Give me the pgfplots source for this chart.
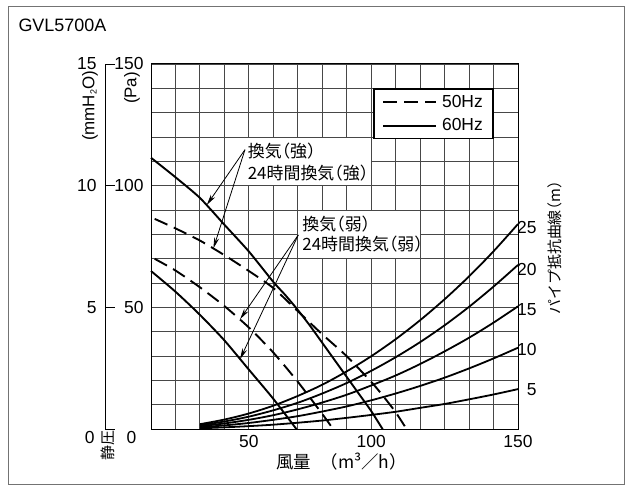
\documentclass[border=0pt]{standalone}
\usepackage{fontspec}
\setmainfont{Liberation Sans}
\newfontfamily\jp{Noto Sans CJK JP}
\newfontfamily\jph[RawFeature=+halt]{Noto Sans CJK JP}
\usepackage{pgfplots}
\pgfplotsset{compat=1.18}
\usetikzlibrary{arrows.meta}
\newcommand{\fs}{\fontsize{17.5}{20}\selectfont}
\begin{document}
\begin{tikzpicture}[x=1bp,y=1bp]
\path (0,0) rectangle (632,492);
\draw[black!55,line width=1bp] (8,7) rectangle (624,485);
\node[anchor=west,font=\fontsize{18}{20}\selectfont] at (15,466.5) {GVL5700A};
% secondary left scale
\draw[black,line width=0.9bp] (115,427.95) -- (105,427.95) -- (105,62.7) -- (115,62.7);
\draw[black,line width=0.9bp] (105,306.2) -- (115,306.2);
\draw[black,line width=0.9bp] (105,184.45) -- (115,184.45);
\node[anchor=east,font=\fs] at (100,428) {15};
\node[anchor=east,font=\fs] at (100,306.2) {10};
\node[anchor=east,font=\fs] at (100,184.45) {5};
\node[anchor=east,font=\fs] at (98,54) {0};
\node[anchor=east,font=\fs] at (147,428) {150};
\node[anchor=east,font=\fs] at (147,306.2) {100};
\node[anchor=east,font=\fs] at (147,184.45) {50};
\node[font=\fs] at (131.5,54) {0};
\node[rotate=90,font=\fontsize{17}{20}\selectfont] at (90,386) {(mmH\raisebox{-0.25ex}{\fontsize{9}{9}\selectfont 2}O)};
\node[rotate=90,font=\fontsize{17}{20}\selectfont] at (132,404) {(Pa)};
\node[rotate=90,font=\jp\fontsize{15}{18}\selectfont] at (108,46) {静圧};
% right labels
\node[anchor=east,font=\fs] at (540,264) {25};
\node[anchor=east,font=\fs] at (540,222) {20};
\node[anchor=east,font=\fs] at (540,182) {15};
\node[anchor=east,font=\fs] at (540,142) {10};
\node[anchor=east,font=\fs] at (540,102) {5};
\node[rotate=90,font=\jph\fontsize{15}{18}\selectfont] at (555,244) {パイプ抵抗曲線（m）};
% x label
\node[anchor=west,font=\jp\fontsize{17.5}{20}\selectfont] at (273,30) {風量};
\node[anchor=west,font=\jph\fontsize{17.5}{20}\selectfont] at (326,30) {（m³／h）};
\begin{axis}[
  at={(151bp,62.7bp)}, anchor=south west,
  width=367bp, height=365.3bp, scale only axis,
  xmin=10, xmax=160, ymin=0, ymax=150,
  xtick={50,100,160}, xticklabels={50,100,150},
  minor xtick={10,20,...,160},
  ytick={0,10,...,150}, yticklabels={},
  grid=both,
  major grid style={black!72, line width=0.9bp},
  minor grid style={black!72, line width=0.9bp},
  axis line style={black, line width=1bp},
  tick style={draw=none},
  xticklabel style={font=\fs, yshift=-3bp},
  /pgf/number format/assume math mode=true,
  legend style={at={(axis cs:150,140)}, anchor=north east, draw=black, line width=1.5bp, fill=white,
    font=\fs, inner xsep=8bp, inner ysep=4bp, row sep=6bp, column sep=3bp, nodes={inner sep=2bp}},
  legend cell align=left,
  legend image code/.code={\draw[#1] (0bp,0bp) -- (53bp,0bp);},
  clip=false,
]
% white background cells behind annotations
\fill[white] (axis cs:40.2,100.2) rectangle (axis cs:99.8,119.8);
\fill[white] (axis cs:70.2,70.2) rectangle (axis cs:119.8,89.8);
% fan curves 60Hz (solid)
\addplot[forget plot, black, line width=1.9bp, smooth, tension=0.4] coordinates {
(10,111.5) (20,103.5) (30,95) (40,84) (50,73) (60,60.5) (65,55) (70,49) (75,42.5) (80,35.5) (85,28.5) (90,21.5) (95,14.5) (100,7.5) (104.7,0)};
\addplot[forget plot, black, line width=1.9bp, smooth, tension=0.4] coordinates {
(10,65) (20,56.5) (30,47) (40,36.5) (50,24.5) (60,12.5) (69.5,0)};
% fan curves 50Hz (dashed)
\addplot[forget plot, black, line width=1.9bp, dash pattern=on 14bp off 7bp, smooth, tension=0.4] coordinates {
(11.5,86.4) (20,82.5) (30,77.5) (40,71.5) (50,65) (60,58) (70,48.5) (80,39) (90,30) (100,19.5) (105,13.5) (110,7) (114.5,0)};
\addplot[forget plot, black, line width=1.9bp, dash pattern=on 14bp off 7bp, smooth, tension=0.4] coordinates {
(11.5,70) (20,65.2) (30,58.3) (40,50.6) (50,41.8) (60,31.5) (70,19.5) (80,6.3) (84.5,0)};
% pipe resistance curves
\addplot[forget plot, black, line width=1.8bp, smooth] coordinates {
(30,2.1) (40,4.0) (50,6.5) (60,9.7) (70,13.7) (80,18.3) (90,23.8) (100,30.0) (110,37.0) (120,44.8) (130,53.4) (140,62.8) (150,73.1) (160,84.3)};
\addplot[forget plot, black, line width=1.8bp, smooth] coordinates {
(30,1.7) (40,3.2) (50,5.2) (60,7.8) (70,10.9) (80,14.7) (90,19.0) (100,24.0) (110,29.6) (120,35.8) (130,42.7) (140,50.3) (150,58.6) (160,67.5)};
\addplot[forget plot, black, line width=1.8bp, smooth] coordinates {
(30,1.3) (40,2.4) (50,3.9) (60,5.8) (70,8.2) (80,11.0) (90,14.2) (100,18.0) (110,22.1) (120,26.8) (130,32.0) (140,37.6) (150,43.8) (160,50.5)};
\addplot[forget plot, black, line width=1.8bp, smooth] coordinates {
(30,0.8) (40,1.6) (50,2.6) (60,3.9) (70,5.4) (80,7.3) (90,9.4) (100,11.9) (110,14.7) (120,17.8) (130,21.2) (140,25.0) (150,29.1) (160,33.5)};
\addplot[forget plot, black, line width=1.8bp, smooth] coordinates {
(30,0.4) (40,0.8) (50,1.3) (60,1.9) (70,2.7) (80,3.6) (90,4.7) (100,5.9) (110,7.2) (120,8.8) (130,10.4) (140,12.3) (150,14.3) (160,16.5)};
% legend
\addlegendimage{black, line width=2bp, dash pattern=on 14bp off 7bp}
\addlegendentry{50Hz}
\addlegendimage{black, line width=2bp, dash pattern=on 60bp off 0bp}
\addlegendentry{60Hz}
% annotations
\node[anchor=west, inner sep=0pt, font=\jph\fontsize{17}{20}\selectfont] at (axis cs:49.5,114.1) {換気（強）};
\node[anchor=west, inner sep=0pt, font=\jph\fontsize{17}{20}\selectfont] at (axis cs:49.5,105.2) {24時間換気（強）};
\node[anchor=west, inner sep=0pt, font=\jph\fontsize{17}{20}\selectfont] at (axis cs:71.8,84.1) {換気（弱）};
\node[anchor=west, inner sep=0pt, font=\jph\fontsize{17}{20}\selectfont] at (axis cs:71.8,76.1) {24時間換気（弱）};
\draw[black, line width=0.8bp, -{Stealth[length=11bp,width=5bp]}] (axis cs:48.4,114.8) -- (axis cs:32.8,92.1);
\draw[black, line width=0.8bp, -{Stealth[length=11bp,width=5bp]}] (axis cs:48.4,114.8) -- (axis cs:35.5,74.3);
\draw[black, line width=0.8bp, -{Stealth[length=11bp,width=5bp]}] (axis cs:70.2,79.8) -- (axis cs:46.4,45.2);
\draw[black, line width=0.8bp, -{Stealth[length=11bp,width=5bp]}] (axis cs:70.2,79.8) -- (axis cs:46.4,28.8);
\end{axis}
\end{tikzpicture}
\end{document}
